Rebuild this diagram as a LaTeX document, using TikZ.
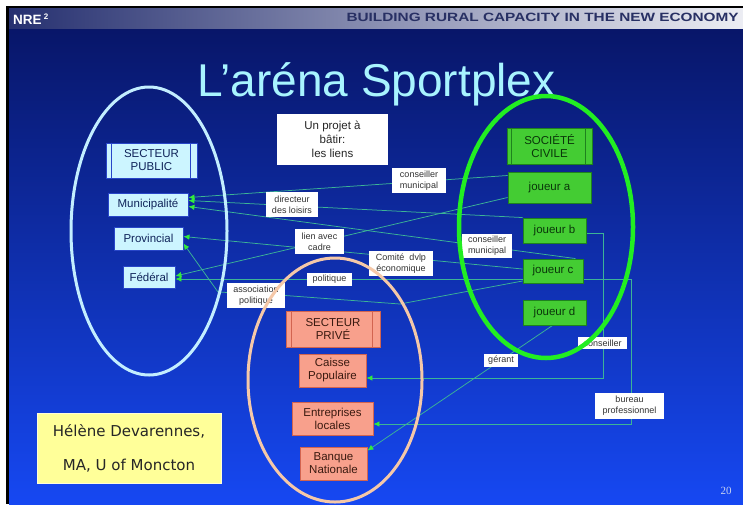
\documentclass[tikz,border=0pt]{standalone}
\usepackage{fontspec}
\setmainfont{Liberation Sans}
\newfontfamily\dejavu{DejaVu Sans}
\newfontfamily\serifnum{Liberation Serif}
\usetikzlibrary{arrows.meta,calc}
\pgfdeclarelayer{back}
\pgfdeclarelayer{lines}
\pgfsetlayers{back,lines,main}
\definecolor{hdl}{RGB}{38,48,112}
\definecolor{hdr}{RGB}{236,237,243}
\definecolor{hdtext}{RGB}{40,48,100}
\definecolor{bgtop}{RGB}{8,22,105}
\definecolor{bgmid}{RGB}{14,45,185}
\definecolor{bgbot}{RGB}{22,72,242}
\definecolor{titlecol}{RGB}{168,244,255}
\definecolor{pubfill}{RGB}{204,245,255}
\definecolor{pubborder}{RGB}{40,70,200}
\definecolor{pubtext}{RGB}{16,36,90}
\definecolor{civfill}{RGB}{68,204,51}
\definecolor{civborder}{RGB}{30,130,30}
\definecolor{civtext}{RGB}{10,55,10}
\definecolor{privfill}{RGB}{248,160,140}
\definecolor{privborder}{RGB}{210,100,80}
\definecolor{privtext}{RGB}{58,26,16}
\definecolor{linecol}{RGB}{60,180,150}
\definecolor{arrowgreen}{RGB}{50,235,60}
\definecolor{pubring}{RGB}{195,238,255}
\definecolor{civring}{RGB}{34,238,34}
\definecolor{privring}{RGB}{245,200,168}
\definecolor{yellowfill}{RGB}{255,255,153}
\definecolor{labeltext}{RGB}{50,50,50}
\definecolor{pagecol}{RGB}{200,210,240}
\begin{document}
\begin{tikzpicture}[x=1pt,y=-1pt,
  pubbox/.style={draw=pubborder,fill=pubfill,text=pubtext,line width=0.9pt,
    font=\fontsize{11.5}{13}\selectfont,align=center,inner sep=0pt},
  civbox/.style={draw=civborder,fill=civfill,text=civtext,line width=0.9pt,
    font=\fontsize{11.5}{13}\selectfont,align=center,inner sep=0pt},
  privbox/.style={draw=privborder,fill=privfill,text=privtext,line width=0.9pt,
    font=\fontsize{11.5}{13}\selectfont,align=center,inner sep=0pt},
  lbl/.style={fill=white,text=labeltext,font=\fontsize{9}{11}\selectfont,
    align=center,inner sep=0pt},
  conn/.style={draw=linecol,line width=0.75pt,
    -{Latex[length=6pt,width=5.5pt,color=arrowgreen]}}]
\useasboundingbox (0,0) rectangle (743,504);
\begin{pgfonlayer}{back}
\fill[white] (0,0) rectangle (743,504);
\fill[black] (5.5,5.5) rectangle (743,504);
\shade[left color=hdl,right color=hdr] (9,8) rectangle (743,29);
\shade[top color=bgtop,middle color=bgmid,bottom color=bgbot] (9,29) rectangle (743,504);
\end{pgfonlayer}

% header and title
\node[anchor=base west,text=white,font=\bfseries\fontsize{13.5}{13.5}\selectfont,inner sep=0pt] (nre) at (13,24) {NRE\,\raisebox{5pt}{\fontsize{8}{8}\selectfont 2}};
\node[anchor=base east,text=hdtext,font=\bfseries\fontsize{12}{12}\selectfont,xscale=1.28,inner sep=0pt] (hdrtext) at (739,21.5) {BUILDING RURAL CAPACITY IN THE NEW ECONOMY};
\node[anchor=base,text=titlecol,font=\fontsize{46}{46}\selectfont,inner sep=0pt] (title) at (376.5,96) {L’aréna Sportplex};

% public sector
\node[pubbox,minimum width=91pt,minimum height=35pt] (sp) at (151.5,160.5) {SECTEUR\\PUBLIC};
\draw[pubborder,line width=0.6pt] ([xshift=6pt]sp.north west) -- ([xshift=6pt]sp.south west);
\draw[pubborder,line width=0.6pt] ([xshift=-7pt]sp.north east) -- ([xshift=-7pt]sp.south east);
\node[pubbox,minimum width=80pt,minimum height=23pt] (mun) at (148,204.5) {Municipalité};
\node[pubbox,minimum width=69pt,minimum height=23pt] (prov) at (148.5,238.5) {Provincial};
\node[pubbox,minimum width=52pt,minimum height=22pt] (fed) at (149,277) {Fédéral};

% project box
\node[fill=white,text=black!85,font=\fontsize{11.5}{14}\selectfont,align=center,
  minimum width=111pt,minimum height=51pt,inner sep=0pt] (proj) at (332.5,139.5) {Un projet à\\bâtir:\\les liens};

% civil society
\node[civbox,minimum width=85pt,minimum height=36pt] (sc) at (549.5,146) {SOCIÉTÉ\\CIVILE};
\draw[civborder,line width=0.6pt] ([xshift=5pt]sc.north west) -- ([xshift=5pt]sc.south west);
\draw[civborder,line width=0.6pt] ([xshift=-7pt]sc.north east) -- ([xshift=-7pt]sc.south east);
\node[civbox,minimum width=83pt,minimum height=31pt] (ja) at (549.5,187.5) {joueur a};
\node[civbox,minimum width=63pt,minimum height=25pt] (jb) at (554.5,230.5) {joueur b};
\node[civbox,minimum width=60pt,minimum height=24pt] (jc) at (553,271) {joueur c};
\node[civbox,minimum width=63pt,minimum height=25pt] (jd) at (554.5,312.5) {joueur d};

% private sector
\node[privbox,minimum width=94pt,minimum height=36pt] (spr) at (333,329) {SECTEUR\\PRIVÉ};
\draw[privborder,line width=0.6pt] ([xshift=6pt]spr.north west) -- ([xshift=6pt]spr.south west);
\draw[privborder,line width=0.6pt] ([xshift=-8pt]spr.north east) -- ([xshift=-8pt]spr.south east);
\node[privbox,minimum width=67pt,minimum height=33pt] (cp) at (332.5,370.5) {Caisse\\Populaire};
\node[privbox,minimum width=81pt,minimum height=33pt] (el) at (332.5,418.5) {Entreprises\\locales};
\node[privbox,minimum width=67pt,minimum height=33pt] (bn) at (333.5,463.5) {Banque\\Nationale};

% author
\node[fill=yellowfill,draw=white!85!yellow,text=black!85,font=\dejavu\fontsize{15}{34}\selectfont,
  align=center,minimum width=184pt,minimum height=70pt,inner sep=0pt] (author) at (129,448) {Hélène Devarennes,\\MA, U of Moncton};
\node[text=pagecol,font=\serifnum\fontsize{11}{11}\selectfont,inner sep=0pt] (pg) at (726,491) {20};

% link labels
\node[lbl,minimum width=54pt,minimum height=25pt] (cm1) at (419,180.5) {conseiller\\municipal};
\node[lbl,minimum width=52pt,minimum height=25pt] (dl) at (292,204.5) {directeur\\des loisirs};
\node[lbl,minimum width=49pt,minimum height=25pt] (lac) at (319.5,241.5) {lien avec\\cadre};
\node[lbl,minimum width=64pt,minimum height=25pt] (cde) at (401,263.5) {Comité\ \ dvlp\\économique};
\node[lbl,minimum width=45pt,minimum height=13pt] (pol) at (329.5,279.5) {politique};
\node[lbl,minimum width=58pt,minimum height=25pt] (ap) at (256,295.5) {association\\politique};
\node[lbl,minimum width=50pt,minimum height=24pt] (cm2) at (487,246) {conseiller\\municipal};
\node[lbl,minimum width=49pt,minimum height=12pt] (cons) at (602.5,343) {conseiller};
\node[lbl,minimum width=34pt,minimum height=13pt] (ger) at (501,360.5) {gérant};
\node[lbl,minimum width=69pt,minimum height=26pt] (bp) at (629.5,406) {bureau\\professionnel};
\coordinate (apbend) at (218,292);
\coordinate (jcbend) at (400,304);

% connectors
\begin{pgfonlayer}{lines}
\draw[conn] ([yshift=12pt]ja.west) -- ([yshift=7pt]mun.east);
\draw[conn] (jb.north west) -- ([yshift=4pt]mun.east);
\draw[conn] ([xshift=-8pt]jc.north east) -- ([yshift=-2pt]mun.east);
\draw[conn] ([yshift=-10pt]ja.west) -- ([yshift=1pt]fed.east);
\draw[conn] ([yshift=2pt]jc.west) -- ([yshift=2pt]prov.east);
\draw[conn] ([yshift=-8pt]jc.west) -- ([yshift=-2pt]fed.east);
\draw[conn] ([yshift=-10pt]jc.west) -- (jcbend) -- (ap.east) -- (apbend) -- ([yshift=-5pt]prov.east);
\draw[conn] ([yshift=-2.5pt]jb.east) -- ++(17,0) |- ([yshift=-7.5pt]cp.east);
\draw[conn] ([yshift=-8pt]jc.east) -- ++(48,0) |- ([yshift=-5.5pt]el.east);
\draw[conn] ([xshift=-2pt]jd.south) -- ([yshift=-4pt]bn.north east);
\end{pgfonlayer}

% rings
\draw[pubring,line width=3pt] (149,231) ellipse [x radius=78pt,y radius=144pt];
\draw[civring,line width=4.5pt] (546,227) ellipse [x radius=87pt,y radius=131pt];
\draw[privring,line width=3pt] (335,380) ellipse [x radius=87pt,y radius=122pt];
\end{tikzpicture}
\end{document}
